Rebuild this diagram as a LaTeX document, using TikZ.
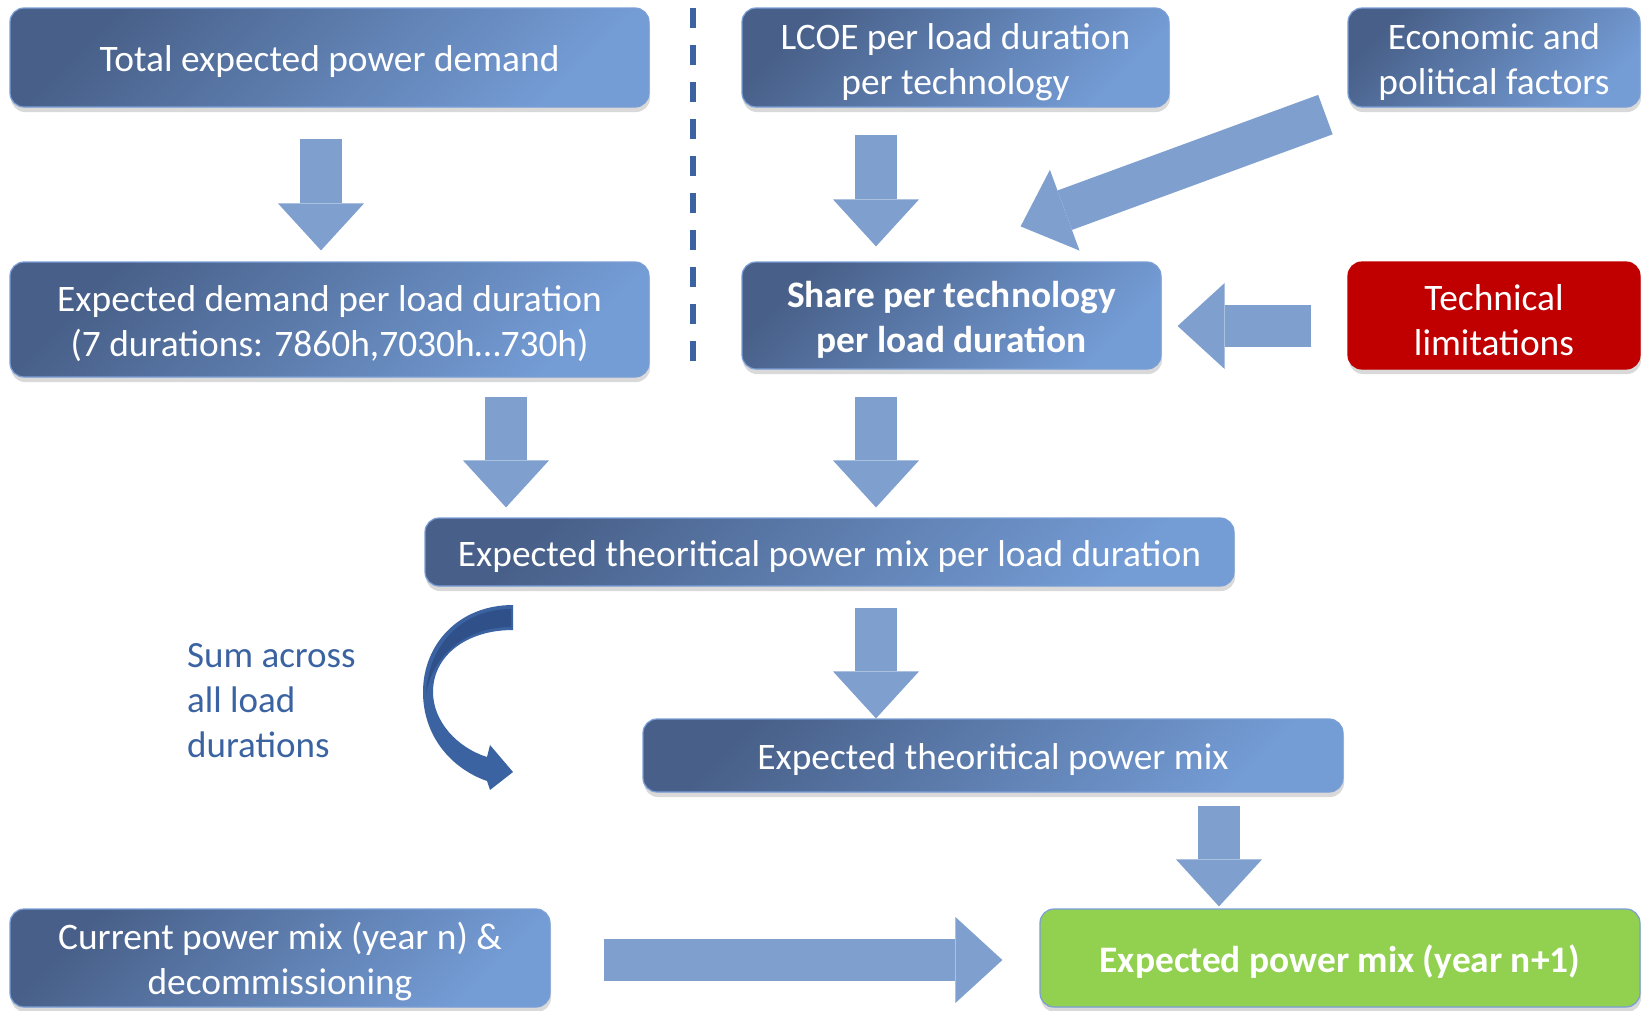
\documentclass[tikz,border=0pt]{standalone}
\usepackage{fontspec}
\setmainfont{Carlito}
\usetikzlibrary{
    positioning,
    calc,
    shadows,
    arrows.meta
}
\definecolor{BlueDark}{HTML}{486089}
\definecolor{BlueLight}{HTML}{749CD5}
\definecolor{BlueEdge}{HTML}{7A9ED6}
\definecolor{ArrowBlue}{HTML}{7F9FCF}
\definecolor{SumBlue}{HTML}{3B63A1}
\definecolor{SumBack}{HTML}{30508A}
\definecolor{RedLimit}{HTML}{C00000}
\definecolor{GreenMix}{HTML}{92D050}

\tikzset{
    mixbox/.style={
        rounded corners=14pt,
        draw=BlueEdge,
        line width=1.2pt,
        top color=BlueDark,
        bottom color=BlueLight,
        shading angle=45,
        text=white,
        align=center,
        inner sep=4pt,
        font=\fontsize{37.4}{45}\selectfont,
        execute at begin node={\rule{0pt}{35pt}},
        drop shadow={shadow xshift=1pt, shadow yshift=-5pt, opacity=0.3}
    },
    twoline/.style={
        execute at begin node={\rule{0pt}{80pt}}
    },
    blockarrow/.style={
        draw=ArrowBlue,
        line width=42pt,
        -{Triangle[length=47pt, width=86pt, line width=0pt]}
    }
}

\begin{document}
\begin{tikzpicture}[x=1pt, y=-1pt]
    \useasboundingbox (0,0) rectangle (1642,1010);

    \node[mixbox, minimum width=639, minimum height=99] (total) at (329.5,57.5)
        {Total expected power demand};
    \node[mixbox, twoline, minimum width=639, minimum height=115] (demand) at (329.5,319.5)
        {Expected demand per load duration\\(7 durations: 7860h,7030h…730h)};
    \node[mixbox, twoline, minimum width=427, minimum height=99] (lcoe) at (955.5,57.5)
        {LCOE per load duration\\per technology};
    \node[mixbox, twoline, minimum width=292, minimum height=99] (econ) at (1494,57.5)
        {Economic and\\political factors};
    \node[mixbox, twoline, minimum width=419, minimum height=107] (share) at (951.5,315.5)
        {\bfseries Share per technology\\\bfseries per load duration};
    \node[mixbox, twoline, draw=RedLimit, top color=RedLimit, bottom color=RedLimit,
        minimum width=292, minimum height=107] (tech) at (1494,315.5)
        {Technical\\limitations};
    \node[mixbox, minimum width=809, minimum height=68] (theoload) at (829.5,552)
        {Expected theoritical power mix per load duration};
    \node[mixbox, minimum width=700, minimum height=73] (theo) at (993,755.5)
        {Expected theoritical power mix};
    \node[mixbox, twoline, minimum width=540, minimum height=98] (current) at (280,958)
        {Current power mix (year n) \&\\decommissioning};
    \node[mixbox, top color=GreenMix, bottom color=GreenMix,
        minimum width=600, minimum height=98] (next) at (1340,958)
        {\bfseries Expected power mix (year n+1)};

    \node[
        anchor=west,
        inner sep=0pt,
        align=left,
        text=SumBlue,
        font=\fontsize{37}{45}\selectfont
    ] (sumlabel) at (187,701) {Sum across\\all load\\durations};

    % separator
    \draw[SumBlue, line width=6pt, dash pattern=on 20pt off 17pt] (693,8) -- (693,366);

    % block arrows
    \draw[blockarrow, shorten <=31pt, shorten >=11pt]
        ([xshift=-8.5pt]total.south) -- ([xshift=-8.5pt]demand.north);
    \draw[blockarrow, shorten <=27pt, shorten >=15pt]
        ([xshift=-79.5pt]lcoe.south) -- ([xshift=-75.5pt]share.north);
    \draw[blockarrow]
        ([xshift=-22pt, yshift=-7pt]econ.south west) -- ([xshift=-141pt, yshift=35pt]share.north east);
    \draw[blockarrow]
        ([xshift=-36pt, yshift=-10.5pt]tech.west) -- ([xshift=16pt, yshift=-10.5pt]share.east);
    \draw[blockarrow, shorten <=19pt, shorten >=10pt]
        ([xshift=176.5pt]demand.south) -- ([xshift=-323.5pt]theoload.north);
    \draw[blockarrow, shorten <=27pt, shorten >=10pt]
        ([xshift=-75.5pt]share.south) -- ([xshift=46.5pt]theoload.north);
    \draw[blockarrow, shorten <=21pt]
        ([xshift=46.5pt]theoload.south) -- ([xshift=-117pt]theo.north);
    \draw[blockarrow, shorten <=13pt, shorten >=2pt]
        ([xshift=226pt]theo.south) -- ([xshift=-121pt]next.north);
    \draw[blockarrow]
        ([xshift=53pt, yshift=-2pt]current.east) -- ([xshift=-37pt, yshift=-2pt]next.west);

    % curved arrow
    \fill[SumBlue] (513,605) .. controls (458,605) and (423,645) .. (423,692)
        .. controls (423,735) and (450,768) .. (487,781) -- (490,790) -- (513,772)
        -- (490,745) -- (487,757) .. controls (458,748) and (433,722) .. (433,692)
        .. controls (433,656) and (466,630) .. (513,630) -- cycle;
    \fill[SumBack] (511,609) .. controls (462,609) and (428,645) .. (426,695)
        .. controls (432,655) and (466,627) .. (511,627) -- cycle;
\end{tikzpicture}
\end{document}
